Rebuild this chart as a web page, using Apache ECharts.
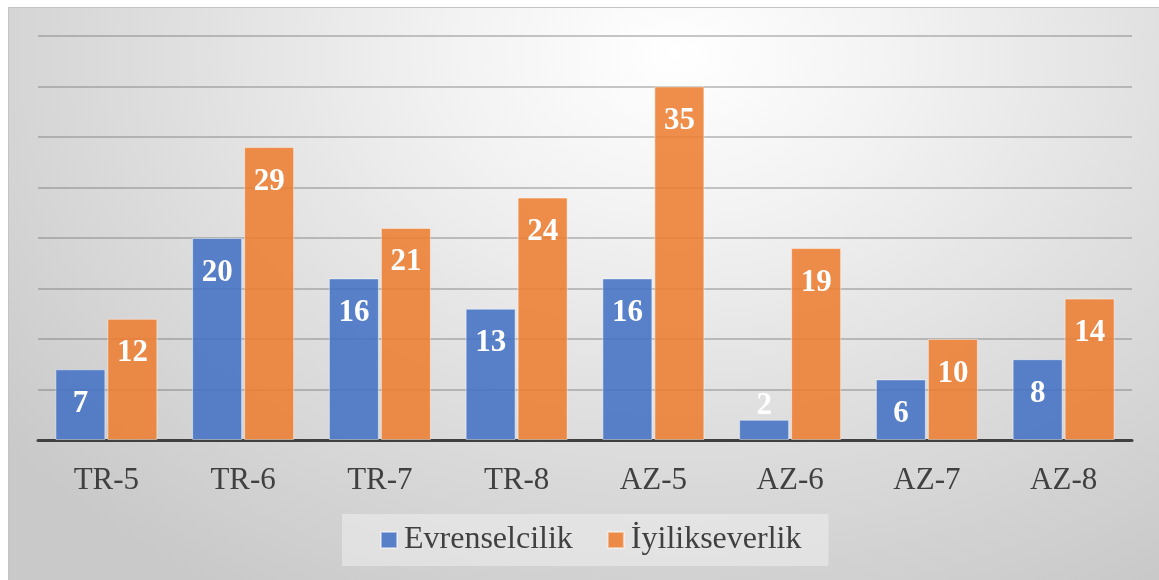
<!DOCTYPE html>
<html>
<head>
<meta charset="utf-8">
<script src="https://cdn.jsdelivr.net/npm/echarts@6/dist/echarts.min.js"></script>
<style>
html,body{margin:0;padding:0;background:#fff;}
#bg{position:absolute;left:8px;top:7px;width:1151px;height:573px;box-sizing:border-box;border-left:1px solid #c4c4c4;border-top:1px solid #c4c4c4;
background:radial-gradient(ellipse 75% 110% at 58% 8%, #ffffff 0%, #f3f3f3 25%, #dedede 60%, #c9c9c9 100%);}
#c{position:absolute;left:0;top:0;width:1159px;height:580px;}
</style>
</head>
<body>
<div id="bg"></div>
<div id="c"></div>
<script>
const categories = ['TR-5','TR-6','TR-7','TR-8','AZ-5','AZ-6','AZ-7','AZ-8'];
const seriesNames = ['Evrenselcilik','İyilikseverlik'];
const evrenselcilik = [7, 20, 16, 13, 16, 2, 6, 8];
const iyilikseverlik = [12, 29, 21, 24, 35, 19, 10, 14];
const yMax = 40, yInterval = 5;

const FONT = '"Liberation Serif", "Times New Roman", serif';

function mkData(arr){
  return arr.map(v => v < 4
    ? {value: v, label: {position: 'top', distance: -2}}
    : v);
}

const labelCfg = {
  show: true, position: 'insideTop', distance: 19,
  color: '#ffffff', fontFamily: FONT, fontWeight: 'bold', fontSize: 31
};

const chart = echarts.init(document.getElementById('c'), null, {renderer: 'canvas'});
chart.setOption({
  backgroundColor: 'transparent',
  animation: false,
  grid: {left: 38, right: 27, top: 36, bottom: 140, containLabel: false},
  legend: {
    data: seriesNames,
    left: 342, top: 514,
    padding: [10, 27, 10, 38],
    backgroundColor: 'rgba(238,238,238,0.55)',
    itemWidth: 16, itemHeight: 16, itemGap: 34,
    icon: 'rect',
    textStyle: {fontFamily: FONT, fontSize: 32, color: '#404040', padding: [0,0,0,2]}
  },
  xAxis: {
    type: 'category', data: categories,
    axisLine: {lineStyle: {color: '#404040', width: 3}},
    axisTick: {show: false},
    axisLabel: {fontFamily: FONT, fontSize: 31, color: '#404040', margin: 25}
  },
  yAxis: {
    type: 'value', min: 0, max: yMax, interval: yInterval,
    axisLabel: {show: false}, axisLine: {show: false}, axisTick: {show: false},
    splitLine: {lineStyle: {color: 'rgba(110,110,110,0.5)', width: 1.5}}
  },
  series: [
    {name: seriesNames[0], type: 'bar', data: mkData(evrenselcilik), barWidth: 50, barGap: '4%',
     itemStyle: {color: 'rgba(68,114,196,0.88)', borderColor: 'rgba(255,255,255,0.45)', borderWidth: 1},
     label: labelCfg},
    {name: seriesNames[1], type: 'bar', data: mkData(iyilikseverlik), barWidth: 50,
     itemStyle: {color: 'rgba(237,125,49,0.88)', borderColor: 'rgba(255,255,255,0.45)', borderWidth: 1},
     label: labelCfg}
  ]
});
</script>
</body>
</html>
